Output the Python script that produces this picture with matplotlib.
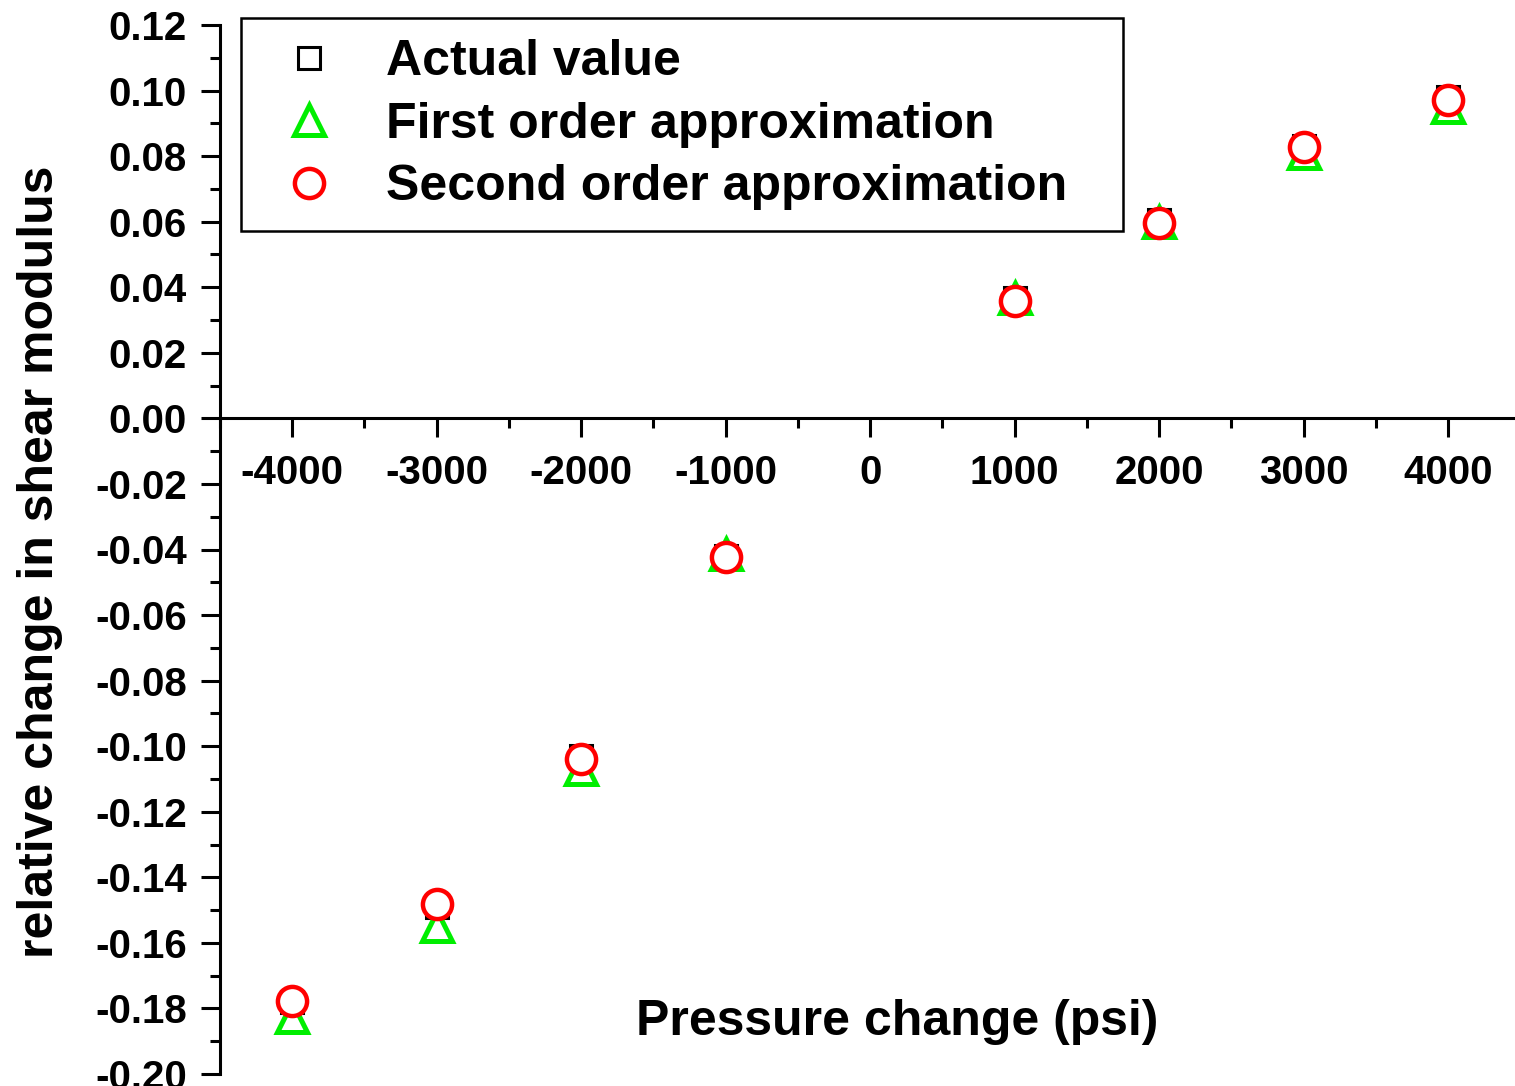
import matplotlib
matplotlib.use("Agg")
import matplotlib.pyplot as plt
from matplotlib.ticker import MultipleLocator, FixedLocator

plt.rcParams['font.family'] = ['Liberation Sans', 'DejaVu Sans']
plt.rcParams['font.weight'] = 'bold'

pressure = [-4000, -3000, -2000, -1000, 1000, 2000, 3000, 4000]
actual = [-0.178, -0.149, -0.103, -0.042, 0.0366, 0.0604, 0.083, 0.098]
first_order = [-0.1826, -0.1547, -0.107, -0.0415, 0.0366, 0.060, 0.081, 0.095]
second_order = [-0.1778, -0.148, -0.104, -0.0424, 0.0357, 0.0597, 0.0827, 0.097]

xticks = [-4000, -3000, -2000, -1000, 0, 1000, 2000, 3000, 4000]
yticks = [-0.20, -0.18, -0.16, -0.14, -0.12, -0.10, -0.08, -0.06, -0.04, -0.02,
          0.00, 0.02, 0.04, 0.06, 0.08, 0.10, 0.12]

fig = plt.figure(figsize=(15.15, 10.86), dpi=100)
ax = fig.add_axes([220/1515, 1 - 1074/1086, (1513 - 220)/1515, 1049/1086])

ax.plot(pressure, actual, linestyle='none', marker='s', ms=16, mew=2.2,
        mec='black', mfc='none', label='Actual value', zorder=3)
ax.plot(pressure, first_order, linestyle='none', marker='^', ms=22, mew=3.6,
        mec='#00ee00', mfc='none', label='First order approximation', zorder=4)
ax.plot(pressure, second_order, linestyle='none', marker='o', ms=21, mew=3.2,
        mec='#ff0000', mfc='white', label='Second order approximation', zorder=5)

ax.set_xlim(-4500, 4450)
ax.set_ylim(-0.20, 0.12)

ax.spines['top'].set_visible(False)
ax.spines['right'].set_visible(False)
ax.spines['bottom'].set_position(('data', 0))
for s in ('left', 'bottom'):
    ax.spines[s].set_linewidth(2.2)

ax.xaxis.set_major_locator(FixedLocator(xticks))
ax.xaxis.set_minor_locator(MultipleLocator(500))
ax.yaxis.set_major_locator(FixedLocator(yticks))
ax.yaxis.set_minor_locator(MultipleLocator(0.01))
ax.set_xticklabels([str(v) for v in xticks])
ax.set_yticklabels(['%.2f' % v for v in yticks])

ax.tick_params(axis='both', which='major', direction='out', length=14, width=2.2,
               labelsize=29)
ax.tick_params(axis='both', which='minor', direction='out', length=7, width=2.2)
ax.tick_params(axis='x', which='major', pad=12)
ax.tick_params(axis='y', which='major', pad=10)
for lbl in ax.get_xticklabels() + ax.get_yticklabels():
    lbl.set_fontweight('bold')

ax.set_xlabel('Pressure change (psi)', fontsize=36, fontweight='bold', va='center')
ax.xaxis.set_label_coords((897 - 220) / 1293, (1074 - 1022) / 1049)
ax.set_ylabel('relative change in shear modulus', fontsize=36, fontweight='bold',
              va='center')
ax.yaxis.set_label_coords(-(220 - 40) / 1293, (1074 - 562) / 1049)

lx0 = (241 - 220) / 1293
ly1 = (1074 - 18) / 1049
lw = (1123 - 241) / 1293
leg = ax.legend(loc='upper left', bbox_to_anchor=(lx0, ly1 - 0.3, lw, 0.3), mode='expand',
                fontsize=36, frameon=True, fancybox=False, edgecolor='black',
                framealpha=1.0,
                borderpad=0.42, labelspacing=0.33, handletextpad=0.62, handlelength=1.86,
                borderaxespad=0)
leg.get_frame().set_linewidth(1.8)
for t in leg.get_texts():
    t.set_fontweight('bold')

fig.savefig('out.png', dpi=100)
